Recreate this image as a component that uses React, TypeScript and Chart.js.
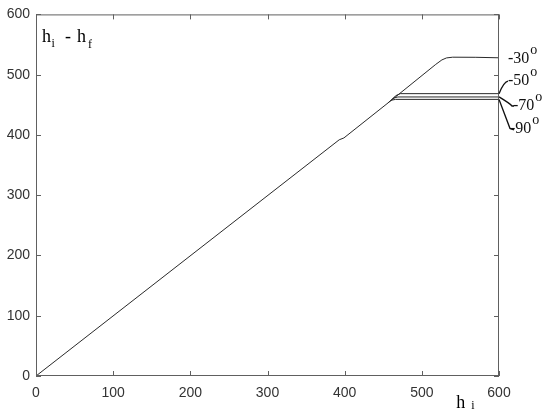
import React, { useEffect, useRef } from "react";
import { Chart, registerables } from "chart.js";

Chart.register(...registerables);

// Axis ticks (both axes)
const tickValues = [0, 100, 200, 300, 400, 500, 600];

// Main curve (-30°) – shared rising part, then plateau
const mainX = [0, 393, 399, 460, 518, 526, 532, 540, 570, 600];
const mainY = [0, 392, 395, 457, 517, 524.5, 527.8, 529, 528.8, 528];

// Branches leaving the main curve
const m50X = [462, 466, 472, 600];
const m50Y = [459.5, 465, 468.5, 468.5];
const m70X = [459, 463, 469, 600];
const m70Y = [456.5, 461, 463, 463];
const m90X = [456, 460, 466, 600];
const m90Y = [453, 457.5, 459, 459];

const seriesNames = ["-30", "-50", "-70", "-90"];
const endValues = [528, 468.5, 463, 459];

const toPts = (xs: number[], ys: number[]) => xs.map((x, i) => ({ x, y: ys[i] }));

const SERIF = "'Liberation Serif', 'DejaVu Serif', serif";
const SANS = "'Liberation Sans', Arial, sans-serif";

const decorPlugin = {
  id: "decor",
  afterDraw(chart: any) {
    const ctx = chart.ctx;
    const a = chart.chartArea;
    const xs = chart.scales.x;
    const ys = chart.scales.y;
    ctx.save();
    // frame
    ctx.strokeStyle = "#606060";
    ctx.lineWidth = 1;
    ctx.strokeRect(a.left + 0.5, a.top + 0.5, a.right - a.left - 1, a.bottom - a.top - 1);
    // inward ticks
    const tl = 5;
    ctx.beginPath();
    tickValues.forEach((v) => {
      const px = Math.round(xs.getPixelForValue(v)) + 0.5;
      ctx.moveTo(px, a.bottom);
      ctx.lineTo(px, a.bottom - tl);
      ctx.moveTo(px, a.top);
      ctx.lineTo(px, a.top + tl);
      const py = Math.round(ys.getPixelForValue(v)) + 0.5;
      ctx.moveTo(a.left, py);
      ctx.lineTo(a.left + tl, py);
      ctx.moveTo(a.right, py);
      ctx.lineTo(a.right - tl, py);
    });
    ctx.stroke();

    // leaders and angle labels
    const xr = xs.getPixelForValue(600);
    const py = endValues.map((v) => ys.getPixelForValue(v));
    ctx.strokeStyle = "#111";
    ctx.lineWidth = 1.4;
    ctx.beginPath();
    // -50 leader
    ctx.moveTo(xr, py[1]);
    ctx.quadraticCurveTo(xr + 5, py[1] - 12, xr + 9, py[1] - 12.5);
    // -70 leader
    ctx.moveTo(xr, py[2]);
    ctx.quadraticCurveTo(xr + 10, py[2] + 6, xr + 13, py[2] + 9);
    ctx.lineTo(xr + 15, py[2] + 9);
    // -90 leader
    ctx.moveTo(xr, py[3]);
    ctx.lineTo(xr + 11, py[3] + 29);
    ctx.lineTo(xr + 15, py[3] + 30.5);
    ctx.stroke();

    ctx.fillStyle = "#111";
    ctx.textBaseline = "alphabetic";
    ctx.textAlign = "left";
    const lab = [
      { dx: 9, dy: 5.5 },
      { dx: 9, dy: -8.5 },
      { dx: 14, dy: 13 },
      { dx: 11, dy: 33.5 },
    ];
    seriesNames.forEach((s, i) => {
      const x = xr + lab[i].dx;
      const y = py[i] + lab[i].dy;
      ctx.font = `16px ${SERIF}`;
      ctx.fillText(s, x, y);
      const w = ctx.measureText(s).width;
      ctx.font = `14px ${SERIF}`;
      ctx.fillText("o", x + w + 1, y - 9);
    });

    // axis titles
    ctx.fillStyle = "#000";
    ctx.font = `18px ${SERIF}`;
    const x0 = a.left + 6;
    const yb = a.top + 28;
    ctx.fillText("h", x0, yb);
    ctx.font = `12px ${SERIF}`;
    ctx.fillText("i", x0 + 9.5, yb + 5);
    ctx.font = `18px ${SERIF}`;
    ctx.fillText("-", x0 + 23, yb);
    ctx.fillText("h", x0 + 35, yb);
    ctx.font = `12px ${SERIF}`;
    ctx.fillText("f", x0 + 46, yb + 6);

    const hx = xs.getPixelForValue(546);
    ctx.font = `18px ${SERIF}`;
    ctx.fillText("h", hx - 1, a.bottom + 32);
    ctx.font = `12px ${SERIF}`;
    ctx.fillText("i", hx + 14, a.bottom + 33);
    ctx.restore();
  },
};

export default function App() {
  const ref = useRef<HTMLCanvasElement | null>(null);
  useEffect(() => {
    if (!ref.current) return;
    const lineStyle = {
      borderColor: "#2a2a2a",
      borderWidth: 1,
      pointRadius: 0,
      tension: 0,
      fill: false,
    };
    const chart = new Chart(ref.current, {
      type: "line",
      data: {
        datasets: [
          { label: seriesNames[0], data: toPts(mainX, mainY), ...lineStyle },
          { label: seriesNames[1], data: toPts(m50X, m50Y), ...lineStyle },
          { label: seriesNames[2], data: toPts(m70X, m70Y), ...lineStyle },
          { label: seriesNames[3], data: toPts(m90X, m90Y), ...lineStyle },
        ],
      },
      options: {
        responsive: false,
        animation: false,
        layout: { padding: { top: 12, right: 51, left: 0, bottom: 0 } },
        plugins: { legend: { display: false }, tooltip: { enabled: false } },
        scales: {
          x: {
            type: "linear",
            min: 0,
            max: 600,
            afterFit: (s: any) => {
              s.height = 42;
            },
            grid: { display: false, drawTicks: false },
            border: { display: false },
            ticks: {
              stepSize: 100,
              autoSkip: false,
              maxRotation: 0,
              padding: 9,
              color: "#333",
              font: { family: SANS, size: 14 },
            },
          },
          y: {
            type: "linear",
            min: 0,
            max: 600,
            afterFit: (s: any) => {
              s.width = 36;
            },
            grid: { display: false, drawTicks: false },
            border: { display: false },
            ticks: {
              stepSize: 100,
              autoSkip: false,
              padding: 6,
              color: "#333",
              font: { family: SANS, size: 14 },
            },
          },
        },
      },
      plugins: [decorPlugin],
    } as any);
    return () => chart.destroy();
  }, []);
  return (
    <div style={{ position: "absolute", left: 0, top: 0, width: 550, height: 418, background: "#fff" }}>
      <canvas ref={ref} width={550} height={418} />
    </div>
  );
}
